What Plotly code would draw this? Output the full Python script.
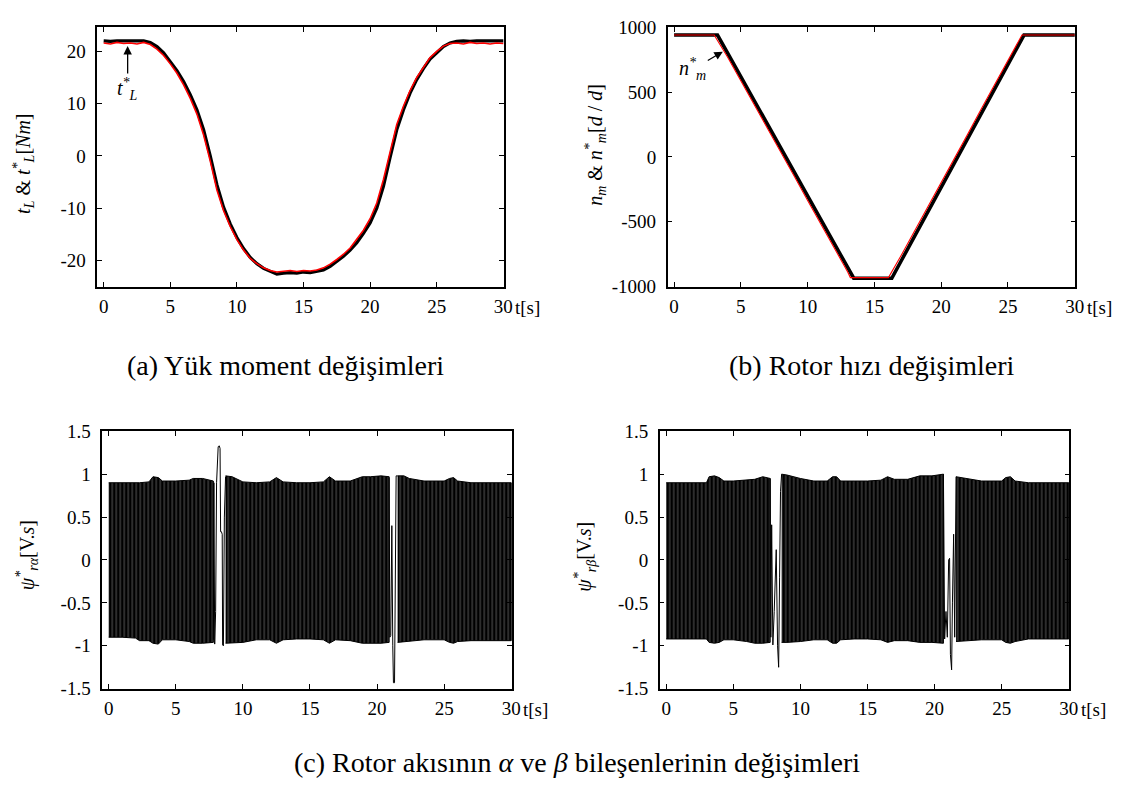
import plotly.graph_objects as go

FONT = "Liberation Serif, Times New Roman, Times, serif"

# ---------------- (a) load torque ----------------
t_a = [0.0, 0.5, 1.0, 1.5, 2.0, 2.5, 3.0, 3.5, 4.0, 4.5, 5.0, 5.5, 6.0, 6.5, 7.0, 7.5,
       8.0, 8.5, 9.0, 9.5, 10.0, 10.5, 11.0, 11.5, 12.0, 12.5, 13.0, 13.5, 14.0, 14.5,
       15.0, 15.5, 16.0, 16.5, 17.0, 17.5, 18.0, 18.5, 19.0, 19.5, 20.0, 20.5, 21.0,
       21.5, 22.0, 22.5, 23.0, 23.5, 24.0, 24.5, 25.0, 25.5, 26.0, 26.5, 27.0, 27.5,
       28.0, 28.5, 29.0, 29.5, 30.0]
tL_ref = [21.6, 21.4, 21.7, 21.5, 21.6, 21.4, 21.7, 21.3, 20.4, 19.2, 17.6, 15.8, 13.6,
          11.0, 8.0, 4.0, -1.0, -6.5, -10.5, -13.5, -16.0, -18.0, -19.6, -20.6, -21.4,
          -21.9, -22.2, -22.0, -21.9, -22.1, -21.9, -22.0, -21.8, -21.4, -20.7, -19.8,
          -18.8, -17.6, -16.0, -14.2, -12.0, -9.0, -4.5, 1.0, 6.0, 9.5, 12.5, 15.0, 17.0,
          18.8, 20.0, 21.0, 21.5, 21.6, 21.4, 21.7, 21.5, 21.6, 21.4, 21.6, 21.5]
tL_meas = [22.0, 21.9, 22.0, 22.0, 21.9, 22.0, 22.0, 21.7, 20.9, 19.7, 18.1, 16.3, 14.2,
           11.7, 8.8, 5.0, 0.0, -5.5, -9.8, -13.0, -15.6, -17.7, -19.4, -20.6, -21.5,
           -22.1, -22.6, -22.4, -22.3, -22.4, -22.2, -22.3, -22.1, -21.8, -21.1, -20.2,
           -19.2, -18.0, -16.6, -14.8, -12.8, -10.0, -5.8, -0.3, 5.0, 8.8, 12.0, 14.6,
           16.7, 18.5, 19.8, 20.9, 21.6, 21.9, 22.0, 21.9, 22.0, 22.0, 21.9, 22.0, 22.0]

# ---------------- (b) rotor speed ----------------
t_nref = [0, 3.0, 4, 5, 6, 7, 8, 9, 10, 11, 12, 13, 13.2, 14, 15, 16.05, 17, 18, 19, 20,
          21, 22, 23, 24, 25, 26.05, 27, 28, 29, 30]
n_ref = [940, 940, 770, 588, 400, 222, 36, -148, -336, -516, -704, -886, -930, -930, -930,
         -930, -760, -574, -382, -198, -8, 178, 370, 556, 746, 940, 940, 940, 940, 940]
t_nm = [0, 3.25, 4, 5, 6, 7, 8, 9, 10, 11, 12, 13, 13.45, 14, 15, 16, 16.3, 17, 18, 19, 20,
        21, 22, 23, 24, 25, 26, 26.2, 27, 28, 29, 30]
n_m = [940, 940, 802, 618, 434, 251, 67, -117, -301, -485, -669, -852, -935, -935, -935,
       -935, -935, -802, -613, -423, -234, -44, 145, 334, 524, 713, 902, 940, 940, 940, 940, 940]

# ---------------- (c) psi_r alpha : envelope of the dense oscillation ----------------
cA_t = [0, 1, 2, 2.3, 3.0, 3.3, 3.7, 4.0, 5.0, 6.0, 6.3, 7.0, 7.8]
cA_up = [0.90, 0.90, 0.90, 0.90, 0.91, 0.97, 0.96, 0.92, 0.92, 0.93, 0.95, 0.95, 0.92]
cA_lo = [-0.90, -0.90, -0.91, -0.94, -0.94, -0.97, -0.98, -0.93, -0.93, -0.95, -0.97, -0.97, -0.96]
cB_t = [8.71, 9.2, 10.0, 11.0, 12.0, 12.5, 13.0, 14.0, 15.0, 16.0, 16.45, 16.9, 18.0, 18.9, 19.5, 20.3, 20.9]
cB_up = [0.98, 0.97, 0.91, 0.90, 0.91, 0.96, 0.91, 0.90, 0.90, 0.91, 0.97, 0.92, 0.92, 0.97, 0.97, 0.98, 0.97]
cB_lo = [-0.97, -0.97, -0.96, -0.93, -0.93, -0.97, -0.93, -0.92, -0.92, -0.93, -0.97, -0.93, -0.94, -0.97, -0.97, -0.97, -0.96]
cC_t = [21.53, 22.0, 22.4, 23.5, 25.0, 25.4, 25.7, 26.0, 27.0, 28.0, 29.0, 30.0]
cC_up = [0.98, 0.98, 0.95, 0.92, 0.92, 0.95, 0.96, 0.92, 0.90, 0.90, 0.90, 0.90]
cC_lo = [-0.96, -0.96, -0.95, -0.93, -0.93, -0.96, -0.97, -0.95, -0.94, -0.94, -0.94, -0.94]
# slow parts near speed reversal
cS1_t = [7.80, 7.84, 7.90, 7.97, 8.04, 8.16, 8.24, 8.30, 8.34, 8.40, 8.46, 8.49, 8.55, 8.62, 8.71]
cS1_y = [-0.93, 0.90, -0.98, -0.6, 0.90, 1.32, 1.33, 1.30, 0.33, 0.33, 0.30, -0.99, -1.0, 0.5, 0.97]
cS2_t = [20.90, 20.95, 21.02, 21.10, 21.17, 21.22, 21.30, 21.36, 21.42, 21.53]
cS2_y = [0.96, -0.90, -0.88, 0.40, -1.00, -1.43, -1.43, -0.60, 0.98, 0.98]

# ---------------- (d) psi_r beta ----------------
dA_t = [0, 1, 2, 3.0, 3.2, 3.6, 3.95, 4.3, 5.0, 6.0, 6.6, 7.2, 7.75]
dA_up = [0.90, 0.90, 0.90, 0.90, 0.97, 0.98, 0.96, 0.92, 0.92, 0.93, 0.94, 0.97, 0.95]
dA_lo = [-0.92, -0.92, -0.92, -0.92, -0.96, -0.97, -0.96, -0.93, -0.93, -0.95, -0.97, -0.97, -0.96]
dB_t = [8.6, 9.0, 10.0, 11.0, 12.0, 12.4, 12.7, 13.0, 14.0, 15.0, 16.0, 16.5, 17.0, 18.0, 18.9, 19.8, 20.66]
dB_up = [1.00, 0.99, 0.95, 0.92, 0.92, 0.97, 0.97, 0.92, 0.92, 0.92, 0.93, 0.97, 0.94, 0.94, 0.98, 0.98, 1.00]
dB_lo = [-0.96, -0.96, -0.95, -0.93, -0.93, -0.97, -0.97, -0.93, -0.92, -0.92, -0.93, -0.96, -0.94, -0.94, -0.96, -0.96, -0.97]
dC_t = [21.6, 22.0, 22.6, 23.5, 25.0, 25.3, 25.65, 26.0, 27.0, 28.0, 29.0, 30.0]
dC_up = [0.97, 0.96, 0.94, 0.92, 0.92, 0.96, 0.97, 0.92, 0.90, 0.90, 0.90, 0.90]
dC_lo = [-0.95, -0.95, -0.94, -0.93, -0.93, -0.96, -0.97, -0.95, -0.92, -0.92, -0.92, -0.92]
dS1_t = [7.75, 7.80, 7.86, 7.95, 8.05, 8.15, 8.20, 8.30, 8.38, 8.45, 8.52, 8.60]
dS1_y = [0.95, -0.90, 0.41, -0.99, -0.60, 0.09, 0.12, -1.00, -1.25, -0.20, 0.80, 1.00]
dS2_t = [20.66, 20.75, 20.85, 20.95, 21.05, 21.12, 21.18, 21.27, 21.33, 21.42, 21.50, 21.60]
dS2_y = [1.00, -0.92, -0.60, -0.90, 0.00, 0.02, -1.10, -1.28, -0.50, 0.30, -0.90, 0.97]

x_ticks = [0, 5, 10, 15, 20, 25, 30]
ya_ticks = [-20, -10, 0, 10, 20]
yb_ticks = [-1000, -500, 0, 500, 1000]
ycd_ticks = [-1.5, -1, -0.5, 0, 0.5, 1, 1.5]
ycd_text = ["-1.5", "-1", "-0.5", "0", "0.5", "1", "1.5"]

W, H = 1125, 792
fig = go.Figure()

# (a)
fig.add_trace(go.Scatter(x=t_a, y=tL_meas, mode="lines", line=dict(color="black", width=3.2),
                         xaxis="x", yaxis="y", showlegend=False))
fig.add_trace(go.Scatter(x=t_a, y=tL_ref, mode="lines", line=dict(color="#ff0000", width=1.6),
                         xaxis="x", yaxis="y", showlegend=False))
# (b)
fig.add_trace(go.Scatter(x=t_nm, y=n_m, mode="lines", line=dict(color="black", width=3.6),
                         xaxis="x2", yaxis="y2", showlegend=False))
fig.add_trace(go.Scatter(x=t_nref, y=n_ref, mode="lines", line=dict(color="#ff0000", width=1.1),
                         xaxis="x2", yaxis="y2", showlegend=False))


def add_band(tt, up, lo, xa, ya):
    fig.add_trace(go.Scatter(
        x=tt + tt[::-1], y=up + lo[::-1], mode="lines", fill="toself",
        fillcolor="black", line=dict(color="black", width=1),
        fillpattern=dict(shape="|", fgcolor="#a0a0a0", bgcolor="#000000", size=4,
                         solidity=0.14, fillmode="replace"),
        xaxis=xa, yaxis=ya, showlegend=False, hoverinfo="skip"))


for tt, up, lo in [(cA_t, cA_up, cA_lo), (cB_t, cB_up, cB_lo), (cC_t, cC_up, cC_lo)]:
    add_band(tt, up, lo, "x3", "y3")
for tt, up, lo in [(dA_t, dA_up, dA_lo), (dB_t, dB_up, dB_lo), (dC_t, dC_up, dC_lo)]:
    add_band(tt, up, lo, "x4", "y4")
for tt, yy in [(cS1_t, cS1_y), (cS2_t, cS2_y)]:
    fig.add_trace(go.Scatter(x=tt, y=yy, mode="lines", line=dict(color="black", width=1),
                             xaxis="x3", yaxis="y3", showlegend=False))
for tt, yy in [(dS1_t, dS1_y), (dS2_t, dS2_y)]:
    fig.add_trace(go.Scatter(x=tt, y=yy, mode="lines", line=dict(color="black", width=1),
                             xaxis="x4", yaxis="y4", showlegend=False))

tickfont = dict(family=FONT, size=19, color="black")


def xax(dom, anchor):
    return dict(domain=dom, anchor=anchor, range=[-0.48, 30.05], tickvals=x_ticks,
                ticks="inside", ticklen=5, tickwidth=1, tickcolor="black",
                showline=True, linecolor="black", linewidth=1.5, mirror="ticks",
                showgrid=False, zeroline=False, tickfont=tickfont, ticklabelstandoff=2)


def yax(dom, anchor, rng, vals, text=None):
    d = dict(domain=dom, anchor=anchor, range=rng, tickvals=vals,
             ticks="inside", ticklen=5, tickwidth=1, tickcolor="black",
             showline=True, linecolor="black", linewidth=1.5, mirror="ticks",
             showgrid=False, zeroline=False, tickfont=tickfont, ticklabelstandoff=6)
    if text is not None:
        d["ticktext"] = text
    return d


xa_dom = [90 / W, 500 / W]
xb_dom = [665 / W, 1076 / W]
xc_dom = [95 / W, 508 / W]
xd_dom = [657 / W, 1070 / W]
yab_dom = [1 - 276 / H, 1 - 9.5 / H]
ycd_dom = [1 - 689 / H, 1 - 424.5 / H]

fig.update_layout(
    width=W, height=H, margin=dict(l=0, r=0, t=0, b=0),
    paper_bgcolor="white", plot_bgcolor="white",
    font=dict(family=FONT, color="black", size=18),
    xaxis=xax(xa_dom, "y"), yaxis=yax(yab_dom, "x", [-25, 24.6], ya_ticks, [str(v) for v in ya_ticks]),
    xaxis2=xax(xb_dom, "y2"), yaxis2=yax(yab_dom, "x2", [-1000, 1000], yb_ticks, [str(v) for v in yb_ticks]),
    xaxis3=xax(xc_dom, "y3"), yaxis3=yax(ycd_dom, "x3", [-1.5, 1.5], ycd_ticks, ycd_text),
    xaxis4=xax(xd_dom, "y4"), yaxis4=yax(ycd_dom, "x4", [-1.5, 1.5], ycd_ticks, ycd_text),
)

ann = []
# t[s] labels
for xr, dom in [("x", yab_dom), ("x2", yab_dom), ("x3", ycd_dom), ("x4", ycd_dom)]:
    ann.append(dict(x=30, xref=xr, y=dom[0], yref="paper", text="t[s]", showarrow=False,
                    xanchor="left", yanchor="top", xshift=10, yshift=-8,
                    font=dict(family=FONT, size=19)))

tfont = dict(family=FONT, size=20, color="black")


def rot(xp, yp, text):
    return dict(x=xp / W, y=1 - yp / H, xref="paper", yref="paper", textangle=-90,
                showarrow=False, xanchor="center", yanchor="middle", text=text, font=tfont)


def cap(xp, yp, text):
    return dict(x=xp / W, y=1 - yp / H, xref="paper", yref="paper", showarrow=False,
                xanchor="center", yanchor="middle", text=text,
                font=dict(family=FONT, size=28, color="black"))


ann += [
    rot(16, 150, "<i>t<sub>L</sub></i> & <i>t<sup>*</sup><sub>L</sub></i>[<i>Nm</i>]"),
    rot(592, 130, "<i>n<sub>m</sub></i> & <i>n<sup>*</sup><sub>m</sub></i>[<i>d</i> / <i>d</i>]"),
    rot(20, 552, "<i>ψ<sup>*</sup><sub>rα</sub></i>[V.<i>s</i>]"),
    rot(582, 553, "<i>ψ<sup>*</sup><sub>rβ</sub></i>[V.<i>s</i>]"),
    # arrows
    dict(x=1.8, y=21.0, xref="x", yref="y", ax=1.8, ay=12.8, axref="x", ayref="y",
         text="<i>t<sup>*</sup><sub>L</sub></i>", showarrow=True, arrowhead=2, arrowsize=1.3,
         arrowwidth=1.3, arrowcolor="black", font=tfont),
    dict(x=3.65, y=812, xref="x2", yref="y2", ax=1.4, ay=676, axref="x2", ayref="y2",
         text="<i>n<sup>*</sup><sub>m</sub></i>", showarrow=True, arrowhead=2, arrowsize=1.3,
         arrowwidth=1.3, arrowcolor="black", font=tfont),
    # captions
    cap(280, 357, "(a) Yük moment değişimleri"),
    cap(871, 357, "(b) Rotor hızı değişimleri"),
    cap(574, 765, "(c) Rotor akısının <i>α</i> ve <i>β</i> bileşenlerinin değişimleri"),
]
fig.update_layout(annotations=ann)

fig.write_html("out.html")
